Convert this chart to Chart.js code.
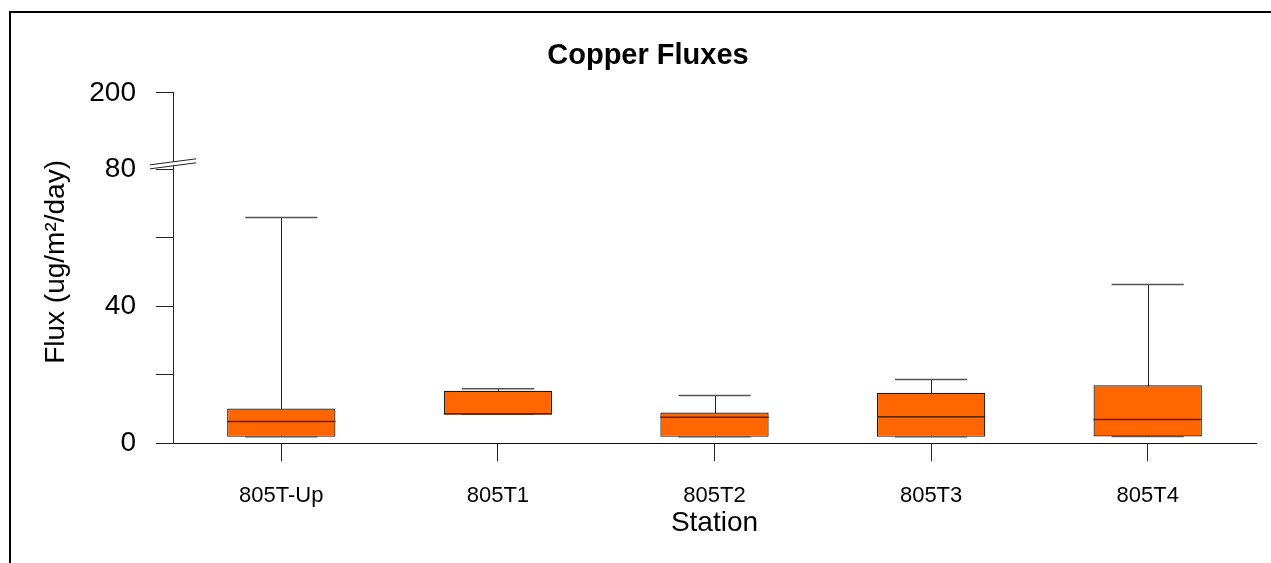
<!DOCTYPE html>
<html>
<head>
<meta charset="utf-8">
<script src="https://cdn.jsdelivr.net/npm/chart.js@4.4.1/dist/chart.umd.min.js"></script>
<style>
  html, body { margin: 0; padding: 0; background: #fff; overflow: hidden; }
  #wrap { position: relative; width: 1271px; height: 563px; overflow: hidden; }
  #frame { position: absolute; left: 9px; top: 11px; width: 2000px; height: 2000px;
           border-top: 2px solid #000; border-left: 2px solid #000; }
  #c { position: absolute; left: 0; top: 0; }
</style>
</head>
<body>
<div id="wrap">
  <div id="frame"></div>
  <canvas id="c" width="1271" height="563"></canvas>
</div>
<script>
// ---- data ----
const stations   = ['805T-Up', '805T1', '805T2', '805T3', '805T4'];
const minVals    = [1.8, 8.4, 1.8, 1.8, 1.9];
const q1Vals     = [1.8, 8.4, 1.8, 1.8, 1.9];
const medianVals = [6.3, 8.5, 7.5, 7.7, 6.9];
const q3Vals     = [10.1, 15.3, 8.9, 14.7, 16.9];
const maxVals    = [66.0, 15.9, 13.9, 18.6, 46.4];

const yTickValues    = [0, 20, 40, 60, 80];
const yTickLabels    = ['0', '', '40', '', '80'];
const yTopTickValues = [200];
const yTopTickLabels = ['200'];

const chartTitle = 'Copper Fluxes';
const xTitle = 'Station';
const yTitle = 'Flux (ug/m\u00B2/day)';

Chart.defaults.font.family = "'Liberation Sans', Arial, sans-serif";
Chart.defaults.color = '#000';

const boxData = stations.map((s, i) => [q1Vals[i], q3Vals[i]]);

const boxPlotPlugin = {
  id: 'boxPlot',
  beforeDatasetsDraw(chart) {
    const ctx = chart.ctx, ys = chart.scales.y;
    const meta = chart.getDatasetMeta(0);
    ctx.save();
    ctx.strokeStyle = '#222';
    ctx.lineWidth = 1;
    meta.data.forEach((bar, i) => {
      const x = Math.round(bar.x) + 0.5;
      ctx.beginPath();
      ctx.moveTo(x, ys.getPixelForValue(maxVals[i]));
      ctx.lineTo(x, ys.getPixelForValue(minVals[i]));
      ctx.stroke();
    });
    ctx.restore();
  },
  afterDatasetsDraw(chart) {
    const ctx = chart.ctx, ys = chart.scales.y;
    const meta = chart.getDatasetMeta(0);
    ctx.save();
    meta.data.forEach((bar, i) => {
      const half = bar.width / 2;
      const capHalf = bar.width / 3;
      // caps
      ctx.strokeStyle = '#555';
      ctx.lineWidth = 1.5;
      [maxVals[i], minVals[i]].forEach(v => {
        const y = ys.getPixelForValue(v);
        ctx.beginPath();
        ctx.moveTo(bar.x - capHalf, y);
        ctx.lineTo(bar.x + capHalf, y);
        ctx.stroke();
      });
      // median
      ctx.strokeStyle = '#5a2400';
      ctx.lineWidth = 1.5;
      const ym = ys.getPixelForValue(medianVals[i]);
      ctx.beginPath();
      ctx.moveTo(bar.x - half, ym);
      ctx.lineTo(bar.x + half, ym);
      ctx.stroke();
    });
    ctx.restore();
  },
  afterDraw(chart) {
    const ctx = chart.ctx;
    const ca = chart.chartArea;
    const ys = chart.scales.y;
    // y axis title
    ctx.save();
    ctx.font = "28px 'Liberation Sans', Arial, sans-serif";
    ctx.fillStyle = '#000';
    ctx.textAlign = 'center';
    ctx.textBaseline = 'middle';
    ctx.translate(56, (ca.top + ca.bottom) / 2 - 6);
    ctx.rotate(-Math.PI / 2);
    ctx.fillText(yTitle, 0, 0);
    ctx.restore();
    // axis break marks
    const ax = ca.left, by = ys.top;
    const dx = 23, slope = 6 / 46;
    ctx.save();
    ctx.fillStyle = '#fff';
    ctx.beginPath();
    ctx.moveTo(ax - 4, by - 2 + 4 * slope);
    ctx.lineTo(ax + 4, by - 2 - 4 * slope);
    ctx.lineTo(ax + 4, by + 2 - 4 * slope);
    ctx.lineTo(ax - 4, by + 2 + 4 * slope);
    ctx.closePath();
    ctx.fill();
    ctx.strokeStyle = '#222';
    ctx.lineWidth = 1;
    [-2, 2].forEach(o => {
      ctx.beginPath();
      ctx.moveTo(ax - dx, by + o + dx * slope);
      ctx.lineTo(ax + dx, by + o - dx * slope);
      ctx.stroke();
    });
    ctx.restore();
  }
};

new Chart(document.getElementById('c'), {
  type: 'bar',
  data: {
    labels: stations,
    datasets: [{
      data: boxData,
      yAxisID: 'y',
      backgroundColor: '#FF6600',
      borderColor: '#1a1a1a',
      borderWidth: 1.2,
      borderSkipped: false,
      barPercentage: 0.5,
      categoryPercentage: 1.0
    }]
  },
  options: {
    responsive: false,
    animation: false,
    layout: { padding: { left: 40, right: 15, top: 0, bottom: 0 } },
    plugins: {
      legend: { display: false },
      tooltip: { enabled: false },
      title: {
        display: true,
        text: chartTitle,
        font: { size: 29, weight: 'bold' },
        color: '#000',
        padding: { top: 39, bottom: 19 }
      }
    },
    scales: {
      x: {
        type: 'category',
        offset: true,
        grid: { display: true, drawOnChartArea: false, offset: false, tickLength: 18, tickColor: '#222' },
        border: { display: true, color: '#111', width: 1 },
        ticks: { font: { size: 22 }, color: '#000', padding: 22, maxRotation: 0 },
        title: { display: true, text: xTitle, font: { size: 28 }, color: '#000', padding: { top: 0, bottom: 23 } },
        afterFit: s => { s.height = 120; }
      },
      y: {
        type: 'linear',
        position: 'left',
        stack: 'left',
        stackWeight: 279,
        weight: 1,
        min: 0,
        max: 81.7,
        afterBuildTicks: s => { s.ticks = yTickValues.map(v => ({ value: v })); },
        ticks: {
          font: { size: 28 }, color: '#000', padding: 20,
          callback: (v) => { const i = yTickValues.indexOf(v); return i >= 0 ? yTickLabels[i] : ''; }
        },
        grid: { display: true, drawOnChartArea: false, tickLength: 17, tickColor: '#222' },
        border: { display: true, color: '#222', width: 1 },
        afterFit: s => { s.width = 133; }
      },
      y2: {
        type: 'linear',
        position: 'left',
        stack: 'left',
        stackWeight: 71,
        weight: 2,
        min: 180,
        max: 200,
        afterBuildTicks: s => { s.ticks = yTopTickValues.map(v => ({ value: v })); },
        ticks: {
          font: { size: 28 }, color: '#000', padding: 20,
          callback: (v) => { const i = yTopTickValues.indexOf(v); return i >= 0 ? yTopTickLabels[i] : ''; }
        },
        grid: { display: true, drawOnChartArea: false, tickLength: 17, tickColor: '#222' },
        border: { display: true, color: '#222', width: 1 },
        afterFit: s => { s.width = 133; }
      }
    }
  },
  plugins: [boxPlotPlugin]
});
</script>
</body>
</html>
